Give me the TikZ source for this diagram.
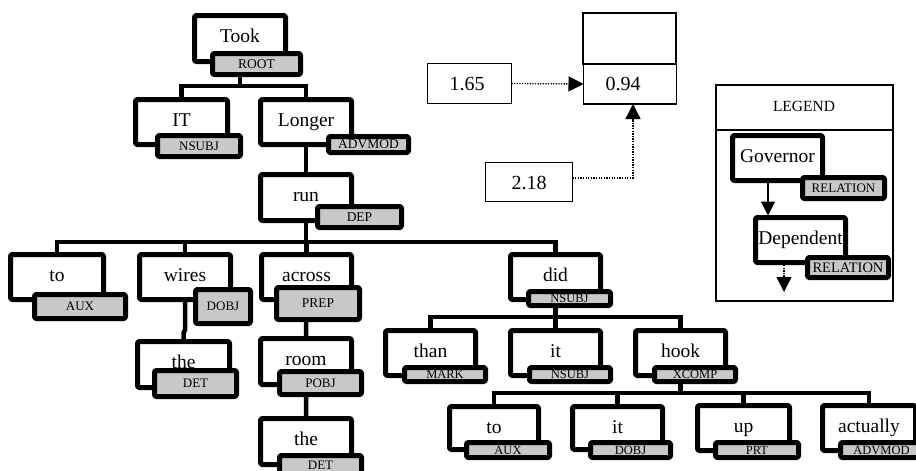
\documentclass[tikz,border=0pt]{standalone}
\usepackage{fontspec}
\setmainfont{Liberation Serif}
\usetikzlibrary{arrows.meta,backgrounds}
\definecolor{lblgray}{RGB}{200,200,200}
\tikzset{
  wordbox/.style={draw=black, line width=5pt, line join=round, fill=white, rounded corners=1.5pt, inner sep=0pt, outer sep=0pt},
  labelbox/.style={draw=black, line width=5pt, line join=round, fill=lblgray, rounded corners=1.5pt, inner sep=0pt, outer sep=0pt},
  wtext/.style={anchor=base, inner sep=0pt, font=\fontsize{19.5}{20}\selectfont},
  numtext/.style={inner sep=0pt, font=\fontsize{20}{22}\selectfont},
  conn/.style={line width=4.5pt, line join=miter},
  thinbox/.style={draw=black, line width=1.3pt, fill=white, inner sep=0pt, outer sep=0pt},
  thinline/.style={line width=1.3pt},
  dotarrow/.style={line width=1.3pt, dash pattern=on 1.3pt off 1.3pt, -{Triangle[length=15pt,width=15pt]}},
  solidarrow/.style={line width=1.8pt, -{Triangle[length=14pt,width=14pt]}},
}
\newcommand\wbox[6]{%
  \node[wordbox, minimum width={#4-#2-5}, minimum height={#5-#3-5}] (#1) at ({(#2+#4)/2},{(#3+#5)/2}) {};
  \node[wtext] (#1-t) at ({(#2+#4)/2},{#3+29}) {#6};}
\newcommand\lbox[7]{%
  \node[labelbox, minimum width={#4-#2-5}, minimum height={#5-#3-5}, font=\fontsize{#7}{#7}\selectfont] (#1) at ({(#2+#4)/2},{(#3+#5)/2}) {#6};}
\begin{document}
\begin{tikzpicture}[x=1pt,y=-1pt]
\useasboundingbox (0,0) rectangle (916,471);
% ---- tree ----
\wbox{took}{192}{13}{288}{64}{Took}
\lbox{tookl}{210}{51}{303}{77}{ROOT}{13.5}
\wbox{it}{133}{97}{230}{147}{IT}
\lbox{itl}{155}{133}{243}{159}{NSUBJ}{13}
\wbox{longer}{258}{97}{354}{147}{Longer}
\lbox{longerl}{326}{134}{411}{155}{ADVMOD}{13.5}
\wbox{run}{258}{172}{354}{223}{run}
\lbox{runl}{315}{204}{404}{230}{DEP}{13.5}
\wbox{to}{8}{252}{106}{302}{to}
\lbox{tol}{32}{292}{128}{321}{AUX}{13}
\wbox{wires}{137}{252}{233}{302}{wires}
\lbox{wiresl}{193}{287}{253}{326}{DOBJ}{13}
\wbox{theA}{135}{339}{232}{390}{the}
\lbox{theAl}{152}{368}{239}{399}{DET}{13}
\wbox{across}{259}{252}{354}{302}{across}
\lbox{acrossl}{274}{285}{362}{322}{PREP}{13.5}
\wbox{room}{258}{336}{354}{387}{room}
\lbox{rooml}{277}{369}{364}{397}{POBJ}{13}
\wbox{theB}{258}{416}{354}{467}{the}
\lbox{theBl}{277}{453}{364}{477}{DET}{13}
\wbox{did}{508}{252}{603}{302}{did}
\lbox{didl}{526}{289}{613}{308}{NSUBJ}{12.5}
\wbox{than}{383}{328}{478}{378}{than}
\lbox{thanl}{402}{365}{488}{384}{MARK}{12.5}
\wbox{itB}{508}{328}{603}{378}{it}
\lbox{itBl}{527}{365}{613}{384}{NSUBJ}{12.5}
\wbox{hook}{633}{328}{728}{378}{hook}
\lbox{hookl}{652}{365}{738}{384}{XCOMP}{12.5}
\wbox{toB}{447}{404}{541}{452}{to}
\lbox{toBl}{464}{440}{552}{460}{AUX}{12.5}
\wbox{itC}{570}{404}{665}{452}{it}
\lbox{itCl}{588}{440}{673}{460}{DOBJ}{12.5}
\wbox{up}{695}{403}{792}{453}{up}
\lbox{upl}{713}{440}{801}{460}{PRT}{12.5}
\wbox{actually}{820}{403}{918}{453}{actually}
\lbox{actuallyl}{838}{440}{925}{460}{ADVMOD}{12.5}
% ---- bus levels ----
\coordinate (b1) at (0,86);
\coordinate (b2) at (0,242);
\coordinate (b3) at (0,317);
\coordinate (b4) at (0,393);
\coordinate (j1) at (0,330);
\coordinate (j2) at (0,333);
\begin{scope}[on background layer]
\draw[conn] (took.center) -- (took.center |- b1) -| (it.north);
\draw[conn] (took.center |- b1) -| (longer.north);
\draw[conn] (longer.center) -- (run.center);
\draw[conn] (run.center) -- (run.center |- b2) -| (to.north);
\draw[conn] (run.center |- b2) -| (wires.north);
\draw[conn] (run.center |- b2) -| (across.north);
\draw[conn] (run.center |- b2) -| (did.north);
\draw[conn] (wires.center) -- (wires.center |- j1) -- (theA.north |- j2) -- (theA.north);
\draw[conn] (across.center) -- (room.center) -- (theB.center);
\draw[conn] (did.center) -- (did.center |- b3) -| (than.north);
\draw[conn] (did.center |- b3) -| (itB.north);
\draw[conn] (did.center |- b3) -| (hook.north);
\draw[conn] (hook.center) -- (hook.center |- b4) -| (toB.north);
\draw[conn] (hook.center |- b4) -| (itC.north);
\draw[conn] (hook.center |- b4) -| (up.north);
\draw[conn] (hook.center |- b4) -| (actually.north);
\end{scope}
% ---- scores ----
\node[thinbox, minimum width=93, minimum height=51] (topbox) at (629.5,38.5) {};
\node[thinbox, minimum width=93, minimum height=40] (n094) at (630,84) {};
\node[numtext] (n094-t) at (623,84) {0.94};
\node[thinbox, minimum width=84, minimum height=40] (n165) at (469.5,83.5) {};
\node[numtext] (n165-t) at (467,84) {1.65};
\node[thinbox, minimum width=87, minimum height=39] (n218) at (529,182) {};
\node[numtext] (n218-t) at (529,183) {2.18};
\draw[dotarrow] (n165.east) -- (n094.west);
\draw[dotarrow] ([yshift=4pt]n218.east) -| ([xshift=3pt]n094.south);
% ---- legend ----
\node[thinbox, minimum width=177, minimum height=216] (legend) at (804.5,193) {};
\draw[thinline] (legend.west |- 0,130) -- (legend.east |- 0,130);
\node[inner sep=0pt, font=\fontsize{15.5}{16}\selectfont] (legend-t) at (804,106) {LEGEND};
\wbox{gov}{730}{133}{825}{183}{Governor}
\lbox{govl}{800}{175}{887}{201}{RELATION}{13}
\wbox{dep}{753}{215}{848}{265}{Dependent}
\lbox{depl}{805}{255}{891}{280}{RELATION}{14.5}
\draw[solidarrow] ([xshift=-9.5pt]gov.south) -- ([xshift=-32.5pt,yshift=2pt]dep.north);
\coordinate (depend) at (784,292);
\draw[dotarrow] ([xshift=-16.5pt,yshift=-2.5pt]dep.south) -- (depend);
\end{tikzpicture}
\end{document}
